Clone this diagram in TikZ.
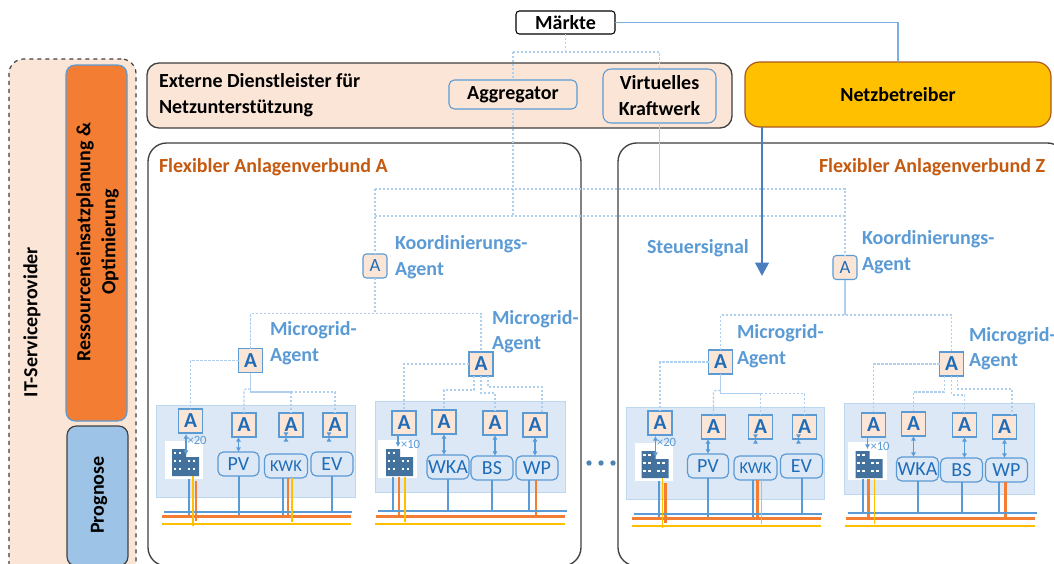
\documentclass[tikz,border=0pt]{standalone}
\usepackage{fontspec}
\setmainfont{Carlito}
\usetikzlibrary{arrows.meta,calc}
\definecolor{peach}{HTML}{FBE5D6}
\definecolor{lineblue}{HTML}{5B9BD5}
\definecolor{dashblue}{HTML}{AFCFEE}
\definecolor{labelblue}{HTML}{5B9BD5}
\definecolor{letterblue}{HTML}{1F6CB8}
\definecolor{panelblue}{HTML}{DCE8F6}
\definecolor{paneledge}{HTML}{BDD7EE}
\definecolor{flexorange}{HTML}{C55A11}
\definecolor{busorange}{HTML}{F37D32}
\definecolor{busyellow}{HTML}{FFC000}
\definecolor{bldgblue}{HTML}{44729F}
\definecolor{outline}{HTML}{404040}
\definecolor{signalblue}{HTML}{4A7EBF}
\def\uu{0.75pt}
\newcommand\bx[7]{\node[#1,minimum width={(#5-#3)*\uu},minimum height={(#6-#4)*\uu}] (#2) at ({(#3+#5)/2},{(#4+#6)/2}) {#7};}
\tikzset{
  base/.style={inner sep=0pt,outer sep=0pt,align=center},
  blackbold/.style={font=\fontsize{15}{19.5}\selectfont\bfseries,text=black},
  blacklabel/.style={base,blackbold},
  flexlabel/.style={base,anchor=west,font=\fontsize{15}{16}\selectfont\bfseries,text=flexorange},
  bluelabel/.style={base,anchor=west,align=left,font=\fontsize{15}{19.2}\selectfont\bfseries,text=labelblue},
  agent/.style={base,draw=lineblue,line width=1.2pt,fill=peach,minimum size=18pt,font=\fontsize{16}{16}\selectfont\bfseries,text=letterblue},
  coord/.style={base,draw=lineblue,line width=0.8pt,fill=peach,rounded corners=2.5pt,minimum size=18pt,font=\fontsize{14}{14}\selectfont,text=letterblue},
  device/.style={base,draw=lineblue,line width=0.9pt,rounded corners=4pt,fill=panelblue,font=\fontsize{15}{15}\selectfont,text=letterblue},
  smalldevice/.style={device,font=\fontsize{12.5}{13}\selectfont},
  panel/.style={base,draw=paneledge,line width=0.75pt,fill=panelblue},
  whitebox/.style={base,fill=white},
  dashline/.style={draw=dashblue,line width=0.8pt,dash pattern=on 1.8pt off 1.2pt},
  solidline/.style={draw=dashblue,line width=0.9pt},
  feedblue/.style={draw=lineblue,line width=1.5pt},
  feedorange/.style={draw=busorange,line width=1.6pt},
  feedyellow/.style={draw=busyellow,line width=1.4pt},
  twoway/.style={draw=lineblue,line width=0.9pt,{Latex[length=3.5pt,width=4pt]}-{Latex[length=3.5pt,width=4pt]}},
  oneway/.style={draw=lineblue,line width=0.9pt,-{Latex[length=3.5pt,width=4pt]}},
  times/.style={base,anchor=west,font=\fontsize{9.5}{9.5}\selectfont,text=lineblue},
}
% building icon: top-left corner at (#1,#2)
\newcommand\bldg[2]{%
  \fill[bldgblue] (#1,#2) rectangle ++(14,27) (#1+14,#2+8) rectangle ++(13,19);
  \foreach \wx/\wy in {3/4,8/4,3/12,8/12,3/20,8/20,17/12,22/12,17/20,22/20}
    \fill[white] (#1+\wx-1.2,#2+\wy-1.2) rectangle ++(2.4,2.4);
}
% group with PV KWK EV: prefix, dx, dy
\newcommand\groupOne[3]{%
\begin{scope}[shift={(#2,#3)},name prefix=#1-]
  \bx{panel}{panel}{156.5}{405.5}{355}{497}{}
  \coordinate (busb) at (164,512);
  \coordinate (buso) at (162,516.5);
  \coordinate (busy) at (162,524);
  \coordinate (busbe) at (352,512);
  \coordinate (busoe) at (351,516.5);
  \coordinate (busye) at (351,524);
  \bx{whitebox}{white}{165}{441}{203}{479}{}
  \bldg{172}{449}
  \node[agent] (a1) at (190.5,421) {A};
  \node[agent] (a2) at (244,425) {A};
  \node[agent] (a3) at (291,425) {A};
  \node[agent] (a4) at (335,425) {A};
  \bx{device}{pv}{218}{452}{259}{476}{PV}
  \bx{smalldevice}{kwk}{264.5}{454}{307.5}{478}{KWK}
  \bx{device}{ev}{311}{452}{353}{476}{EV}
  \coordinate (bt) at (189,479);
  \coordinate (ot) at (196,481);
  \coordinate (yt) at (193,476);
  \draw[feedblue] (bt) -- (bt |- buso);
  \draw[feedorange] (ot) -- ($(ot |- busy)+(0,-3)$);
  \draw[feedblue] (pv.south) -- (pv.south |- buso);
  \draw[feedblue] ([xshift=-3*\uu]kwk.south) -- ([xshift=-3*\uu]kwk.south |- buso);
  \draw[feedorange] ([xshift=2*\uu]kwk.south) -- ([xshift=2*\uu]kwk.south |- buso);
  \draw[feedblue] (ev.south) -- (ev.south |- busb);
  \draw[line width=1.5pt,draw=lineblue] (busb) -- (busbe);
  \draw[line width=1.7pt,draw=busorange] (buso) -- (busoe);
  \draw[line width=1.5pt,draw=busyellow] (busy) -- (busye);
  \draw[feedyellow] (yt) -- ($(yt |- busy)+(0,2)$);
  \draw[feedyellow] ([xshift=6*\uu]kwk.south) -- ($([xshift=6*\uu]kwk.south |- busy)+(0,-2)$);
  \draw[twoway] (a2.south -| pv.south) -- (pv.north);
  \draw[twoway] (a3.south -| 286,0) -- (a3.south -| 286,0 |- kwk.north);
  \draw[twoway] (a4.south -| 329,0) -- (a4.south -| 329,0 |- ev.north);
  \coordinate (bu) at (186,434);
  \coordinate (bd) at (186,455);
  \draw[twoway] (bu) -- (bd);
  \node[times] (mult) at (187.5,440.5) {×20};
  % connectors from the microgrid agent
  \coordinate (j) at ($(mg.south)+(0,19.5)$);
  \coordinate (jl) at ($(j)+(0,-3)$);
  \draw[dashline] (mg.west) -| (a1.north);
  \draw[solidline] (mg.south) -- (j) -- (j -| a3.north);
  \draw[dashline] (j -| a3.north) -- (a3.north);
  \draw[dashline] (j -| a3.north) -- (j -| a4.north) -- (a4.north);
  \draw[dashline,rounded corners=1.5pt] (jl) -- (jl -| a2.north) -- (a2.north);
\end{scope}}
% group with WKA BS WP
\newcommand\groupTwo[5]{%
\begin{scope}[shift={(#2,#3)},name prefix=#1-]
  \bx{panel}{panel}{375}{401}{565}{492}{}
  \coordinate (busb) at (378,511);
  \coordinate (buso) at (376,516.5);
  \coordinate (busy) at (375,524);
  \coordinate (busbe) at (567,511);
  \coordinate (busoe) at (565,516.5);
  \coordinate (busye) at (565,524);
  \bx{whitebox}{white}{378}{440}{417}{478}{}
  \bldg{386}{449}
  \node[agent] (a1) at (404,423) {A};
  \node[agent] (a2) at (444,422) {A};
  \node[agent] (a3) at (495,423) {A};
  \node[agent] (a4) at (535,425) {A};
  \bx{device}{wka}{427}{455}{469}{479}{WKA}
  \bx{device}{bs}{471}{456}{513}{480}{BS}
  \bx{device}{wp}{516}{456}{558}{480}{WP}
  \coordinate (bt) at (393,477);
  \coordinate (ot) at (399,477);
  \coordinate (yt) at (405,477);
  \draw[feedblue] (bt) -- (bt |- busb);
  \draw[feedorange] (ot) -- (ot |- buso);
  \draw[feedblue] (wka.south) -- (wka.south |- busb);
  \draw[feedblue] (bs.south) -- (bs.south |- busb);
  \draw[feedblue] ([xshift=-8*\uu]wp.south) -- ([xshift=-8*\uu]wp.south |- busb);
  \draw[feedorange] ([xshift=-1*\uu]wp.south) -- ([xshift=-1*\uu]wp.south |- buso);
  \draw[line width=1.5pt,draw=lineblue] (busb) -- (busbe);
  \draw[line width=1.7pt,draw=busorange] (buso) -- (busoe);
  \draw[line width=1.5pt,draw=busyellow] (busy) -- (busye);
  \draw[feedyellow] (yt) -- ($(yt |- busy)+(0,-2)$);
  \draw[twoway] (a2.south) -- (a2.south |- wka.north);
  \draw[twoway] (a3.south) -- (a3.south |- bs.north);
  \draw[twoway] (a4.south) -- (a4.south |- wp.north);
  \coordinate (bd) at (398,447);
  \draw[oneway] (a1.south -| bd) -- (bd);
  \node[times] (mult) at (401,444) {×10};
  % connectors from the microgrid agent
  \coordinate (j2) at (0,390);
  \coordinate (j3) at (0,393);
  \coordinate (j4) at (0,387);
  \draw[dashline] (mg.west) -| (a1.north);
  \draw[dashline] ([xshift=-7*\uu]mg.south) -- ([xshift=-7*\uu]mg.south |- j2) -- (j2 -| a2.north) -- (a2.north);
  \draw[dashline] (mg.south) -- (mg.south |- j3) -- (j3 -| a3.north) -- (a3.north);
  \draw[dashline] ([xshift=#4*\uu]mg.south) -- ([xshift=#4*\uu]mg.south |- j4) -- (j4 -| #5,0) -- ($(#5,0 |- a4.north)$);
\end{scope}}
\begin{document}
\begin{tikzpicture}[x=0.75pt,y=-0.75pt]
\clip (0,0) rectangle (1054,564);
\fill[white] (0,0) rectangle (1054,564);
% left column
\bx{base,draw=outline,fill=peach,line width=0.9pt,dashed,rounded corners=11pt}{it}{9}{59}{136}{600}{}
\bx{base,draw=lineblue,fill=busorange,line width=0.9pt,rounded corners=7pt}{res}{66}{65}{127}{421}{}
\bx{base,draw=outline,fill=lineblue!60,line width=0.9pt,rounded corners=7pt}{prog}{67}{426}{128}{566}{}
\node[blacklabel,rotate=90] (itl) at (32,322) {IT-Serviceprovider};
\node[blacklabel,rotate=90,font=\fontsize{15}{18.7}\selectfont\bfseries] (resl) at (97.5,242) {Ressourceneinsatzplanung \&\\Optimierung};
\node[blacklabel,rotate=90] (progl) at (99,495) {Prognose};
% flex boxes
\bx{base,draw=outline,fill=white,line width=1pt,rounded corners=14pt}{flexa}{148}{143}{581}{566}{}
\bx{base,draw=outline,fill=white,line width=1pt,rounded corners=14pt}{flexz}{618}{143}{1066}{566}{}
\node[flexlabel] (flexal) at (159,167) {Flexibler Anlagenverbund A};
\node[flexlabel] (flexzl) at (819,167) {Flexibler Anlagenverbund Z};
% service box
\bx{base,draw=outline,fill=peach,line width=1pt,rounded corners=9pt}{ext}{147}{63}{732}{128}{}
\node[blacklabel,anchor=west,align=left] (extl) at (159,95.5) {Externe Dienstleister für\\Netzunterstützung};
\bx{base,blackbold,draw=lineblue,fill=peach,line width=0.8pt,rounded corners=4pt}{agg}{449}{80}{577}{109}{Aggregator}
\bx{base,blackbold,draw=lineblue,fill=peach,line width=0.8pt,rounded corners=6pt}{vk}{603}{69}{716}{123}{Virtuelles\\Kraftwerk}
\bx{base,blackbold,draw=black,fill=white,line width=0.8pt,rounded corners=2.5pt}{markt}{516}{11}{615}{34}{Märkte}
\bx{base,blackbold,draw=busorange!70!black,fill=busyellow,line width=0.9pt,rounded corners=11pt}{netz}{745}{62}{1051}{127}{Netzbetreiber}
% coordination agents
\node[coord] (koa) at (375,266) {A};
\node[coord] (koz) at (845,267.5) {A};
\coordinate (top) at (0,189);
\coordinate (mid) at (0,216);
\coordinate (mk) at (0,52);
% upper connectors
\draw[draw=lineblue!80,line width=0.8pt] (markt.east) -| (netz.north);
\draw[dashline] (markt.south) -- (markt.south |- mk);
\draw[dashline] (agg.north |- mk) -- (vk.north |- mk) -- (vk.north);
\draw[dashline] (agg.north |- mk) -- (agg.north);
\draw[dashline] (agg.south) -- (agg.south |- mid);
\draw[solidline] (vk.south) -- (vk.south |- top);
\draw[dashline] (koa.north |- top) -- (koz.north |- top) -- (koz.north);
\draw[dashline] (koa.north |- mid) -- (koz.north |- mid);
\draw[dashline] (koa.north |- top) -- (koa.north);
% control signal
\coordinate (arrowend) at (762,276);
\draw[draw=signalblue,line width=2.1pt,-{Triangle[length=10pt,width=10pt]}] (netz.south -| arrowend) -- (arrowend);
\node[bluelabel] (steuer) at (647,248.5) {Steuersignal};
% coordination labels
\node[bluelabel] (koal) at (395,257) {Koordinierungs-\\Agent};
\node[bluelabel] (kozl) at (862,252) {Koordinierungs-\\Agent};
% microgrid agents
\node[agent] (Aa-mg) at (250.5,360.5) {A};
\node[agent] (Ab-mg) at (481,364) {A};
\node[agent] (Za-mg) at (720.5,362) {A};
\node[agent] (Zb-mg) at (951.5,364) {A};
\node[bluelabel] (l1) at (270,343) {Microgrid-\\Agent};
\node[bluelabel] (l2) at (492,331.5) {Microgrid-\\Agent};
\node[bluelabel] (l3) at (737,346) {Microgrid-\\Agent};
\node[bluelabel] (l4) at (969,348.5) {Microgrid-\\Agent};
\coordinate (la) at (0,313.5);
\coordinate (lz) at (0,315);
\draw[dashline] (koa.south) -- (koa.south |- la);
\draw[dashline] (Aa-mg.north) -- (Aa-mg.north |- la) -- (Ab-mg.north |- la) -- (Ab-mg.north);
\draw[solidline] (koz.south) -- (koz.south |- lz);
\draw[dashline] (Za-mg.north) -- (Za-mg.north |- lz) -- (Zb-mg.north |- lz) -- (Zb-mg.north);
% groups
\groupOne{Aa}{0}{0}
\groupTwo{Ab}{0}{0}{7}{542}
\groupOne{Za}{469.5}{2}
\groupTwo{Zb}{469.5}{2}{6}{542.5}
% ellipsis
\node[base,circle,fill=lineblue!85!black,minimum size=4pt] (d1) at (589,463) {};
\node[base,circle,fill=lineblue!85!black,minimum size=4pt] (d2) at (601,463) {};
\node[base,circle,fill=lineblue!85!black,minimum size=4pt] (d3) at (613,463) {};
\end{tikzpicture}
\end{document}
